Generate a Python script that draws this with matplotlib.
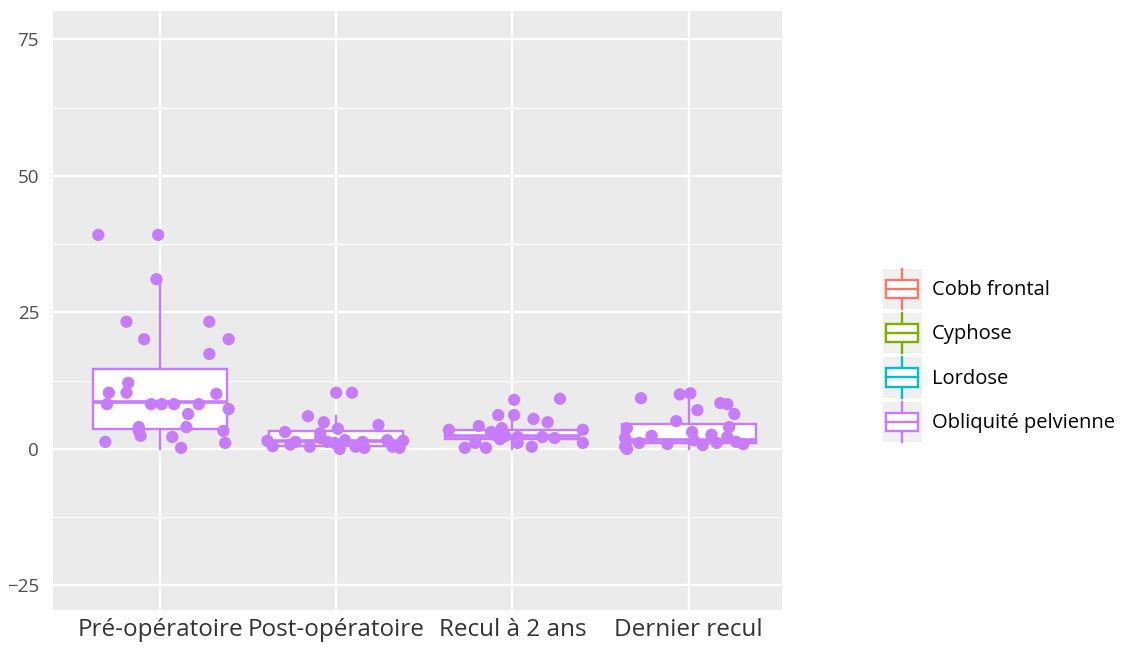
import matplotlib
matplotlib.use("Agg")
import matplotlib.pyplot as plt
from matplotlib.patches import Rectangle
from matplotlib.lines import Line2D
from matplotlib.legend_handler import HandlerBase

plt.rcParams['font.family'] = ['Open Sans', 'DejaVu Sans']

categories = ['Pré-opératoire', 'Post-opératoire', 'Recul à 2 ans', 'Dernier recul']
groups = ['Cobb frontal', 'Cyphose', 'Lordose', 'Obliquité pelvienne']
group_colors = ['#F8766D', '#7CAE00', '#00BFC4', '#C77CFF']

# box statistics (Obliquité pelvienne)
q1 = [3.7, 0.6, 1.9, 1.1]
med = [8.6, 1.5, 2.3, 1.6]
q3 = [14.6, 3.2, 3.4, 4.6]
whis_lo = [0.0, 0.0, 0.0, 0.0]
whis_hi = [31.1, 6.0, 5.9, 10.2]

# jittered points: value and horizontal jitter offset
pre_y = [39.2, 39.2, 31.1, 23.3, 23.3, 20.1, 20.1, 17.4, 12.1, 10.3, 10.3, 10.1, 8.2, 8.2,
         8.2, 8.2, 8.2, 7.3, 6.4, 4.0, 4.0, 2.4, 3.3, 3.3, 1.3, 2.2, 1.1, 0.2]
pre_j = [-0.35, -0.01, -0.02, -0.19, 0.28, -0.09, 0.39, 0.28, -0.18, -0.29, -0.19, 0.32, -0.30, -0.05,
         0.01, 0.08, 0.22, 0.39, 0.16, -0.12, 0.15, -0.11, -0.12, 0.36, -0.31, 0.07, 0.37, 0.12]
post_y = [6.0, 4.9, 4.4, 3.7, 3.1, 10.3, 10.3, 1.5, 0.5, 1.3, 0.4, 2.0, 1.3, 1.1, 1.6, 0.4,
          1.3, 0.2, 1.6, 0.4, 0.2, 1.5, 2.9, 0.8, 0.0]
post_j = [-0.16, -0.07, 0.24, 0.01, -0.29, 0.0, 0.09, -0.39, -0.36, -0.23, -0.15, -0.09, -0.05, -0.01, 0.05, 0.11,
          0.15, 0.16, 0.29, 0.32, 0.36, 0.38, -0.09, -0.26, 0.02]
rec2_y = [9.0, 9.2, 6.2, 6.2, 5.5, 4.9, 4.2, 3.8, 3.5, 3.5, 3.1, 2.6, 2.4, 2.2, 2.2, 1.1,
          0.2, 0.2, 0.4, 1.1, 1.1, 1.8, 2.0]
rec2_j = [0.01, 0.27, -0.08, 0.01, 0.12, 0.20, -0.19, -0.06, -0.36, 0.40, -0.12, -0.10, -0.04, 0.03, 0.17, 0.40,
          -0.27, -0.15, 0.11, -0.21, 0.03, -0.07, 0.24]
last_y = [9.3, 10.0, 10.2, 8.4, 8.2, 7.1, 6.4, 5.1, 4.0, 3.1, 3.8, 2.4, 2.0, 2.6, 2.2, 1.6,
          1.1, 0.9, 0.7, 1.1, 1.3, 0.9, 0.0, 0.4]
last_j = [-0.27, -0.05, 0.01, 0.18, 0.22, 0.05, 0.26, -0.07, 0.23, 0.02, -0.35, -0.21, -0.36, 0.13, 0.22, 0.03,
          -0.28, -0.12, 0.08, 0.16, 0.27, 0.31, -0.35, -0.36]
points_y = [pre_y, post_y, rec2_y, last_y]
points_j = [pre_j, post_j, rec2_j, last_j]

yticks = [-25, 0, 25, 50, 75]

purple = group_colors[3]

fig = plt.figure(figsize=(11.3, 6.52), dpi=100)
ax = fig.add_axes([0.0469, 0.0644, 0.6451, 0.9186])
ax.set_facecolor('#EBEBEB')
for s in ax.spines.values():
    s.set_visible(False)

positions = list(range(1, len(categories) + 1))
stats = []
for i in range(len(categories)):
    stats.append(dict(q1=q1[i], med=med[i], q3=q3[i], whislo=whis_lo[i], whishi=whis_hi[i], fliers=[]))
ax.bxp(stats, positions=positions, widths=0.76, patch_artist=True, showfliers=False, showcaps=False,
       boxprops=dict(facecolor='white', edgecolor=purple, linewidth=1.7),
       medianprops=dict(color=purple, linewidth=2.6),
       whiskerprops=dict(color=purple, linewidth=1.7), zorder=3)

for i, (ys, js) in enumerate(zip(points_y, points_j)):
    xs = [positions[i] + j for j in js]
    ax.scatter(xs, ys, s=78, color=purple, edgecolors='none', zorder=4)

ax.set_xlim(0.393, 4.53)
ax.set_ylim(-29.5, 80.2)
ax.set_yticks(yticks)
ax.set_yticks([-12.5, 12.5, 37.5, 62.5], minor=True)
ax.set_xticks(positions)
ax.set_xticklabels(categories)
ax.grid(True, which='major', color='white', linewidth=1.6, zorder=0)
ax.grid(True, which='minor', axis='y', color='white', linewidth=0.8, zorder=0)
ax.set_axisbelow(True)
ax.tick_params(axis='both', which='both', length=0)
ax.tick_params(axis='y', labelsize=13.5, labelcolor='#4D4D4D', pad=10)
ax.tick_params(axis='x', labelsize=17.5, labelcolor='#333333', pad=6)


class BoxKey(HandlerBase):
    def create_artists(self, legend, orig_handle, xd, yd, w, h, fontsize, trans):
        c = orig_handle.get_color()
        x0, y0 = -xd, -yd
        bg = Rectangle((x0, y0), w, h, facecolor='#F0F0F0', edgecolor='none', transform=trans)
        bx0, bx1 = x0 + 0.1 * w, x0 + 0.9 * w
        by0, by1 = y0 + 0.27 * h, y0 + 0.73 * h
        box = Rectangle((bx0, by0), bx1 - bx0, by1 - by0, facecolor='white', edgecolor=c, linewidth=1.7,
                        transform=trans)
        cx = x0 + w / 2
        mid = Line2D([bx0, bx1], [y0 + 0.5 * h, y0 + 0.5 * h], color=c, linewidth=1.7, transform=trans)
        wu = Line2D([cx, cx], [by1, y0 + h], color=c, linewidth=1.7, transform=trans)
        wd = Line2D([cx, cx], [y0, by0], color=c, linewidth=1.7, transform=trans)
        return [bg, wu, wd, box, mid]


handles = [Line2D([], [], color=c) for c in group_colors]
leg = fig.legend(handles, groups, handler_map={Line2D: BoxKey()}, loc='center left',
                 bbox_to_anchor=(0.781, 0.455), frameon=False, fontsize=14.5,
                 handlelength=1.95, handleheight=2.7, labelspacing=0.2, handletextpad=0.5,
                 borderpad=0, borderaxespad=0)

fig.savefig('out.png', dpi=100)
